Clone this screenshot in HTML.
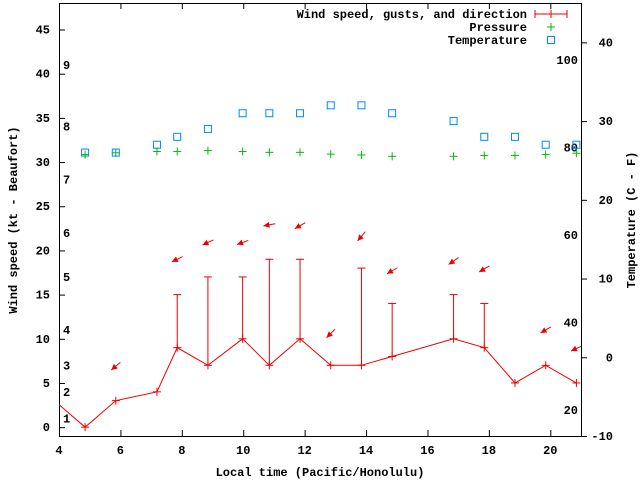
<!DOCTYPE html>
<html><head><meta charset="utf-8"><style>
body{margin:0;background:#fff}
svg{display:block}
text{font-family:"Liberation Mono",monospace;font-weight:bold;font-size:12px;fill:#000}
</style></head><body>
<svg id="chart" width="640" height="480" viewBox="0 0 640 480" xmlns="http://www.w3.org/2000/svg">
<g id="axes"></g>
<g id="marks"></g>
<g>
<text x="527" y="18" text-anchor="end">Wind speed, gusts, and direction</text>
<g stroke="#e00" stroke-width="1"><line x1="535" y1="14" x2="567" y2="14"/><line x1="535" y1="10" x2="535" y2="18"/><line x1="567" y1="10" x2="567" y2="18"/><line x1="551" y1="10" x2="551" y2="18"/></g>
<text x="527" y="31" text-anchor="end">Pressure</text>
<g stroke="#0b0" stroke-width="1"><line x1="547" y1="27" x2="555" y2="27"/><line x1="551" y1="23" x2="551" y2="31"/></g>
<text x="527" y="44" text-anchor="end">Temperature</text>
<rect x="547.5" y="36.5" width="7" height="7" fill="none" stroke="#08f"/>
</g>
<text x="320" y="476" text-anchor="middle">Local time (Pacific/Honolulu)</text>
<text transform="translate(17,220) rotate(-90)" text-anchor="middle">Wind speed (kt - Beaufort)</text>
<text transform="translate(635,220) rotate(-90)" text-anchor="middle">Temperature (C - F)</text>
</svg>
<script>
const times=[3.85,4.85,5.85,7.19,7.85,8.85,9.98,10.85,11.85,12.85,13.85,14.85,16.85,17.85,18.85,19.85,20.85];
const windKt=[3,0,3,4,9,7,10,7,10,7,7,8,10,9,5,7,5];
const gustKt=[null,null,null,null,15,17,17,19,19,null,18,14,15,14,null,null,null];
const arrowKt=[null,null,6.9,null,19,20.9,20.9,22.9,22.8,10.6,21.6,17.7,18.8,17.9,null,11,8.9];
const windDirDeg=[null,null,50,null,65,65,70,80,60,45,40,60,55,60,null,60,65];
const tempTimes=[4.85,5.85,7.19,7.85,8.85,9.98,10.85,11.85,12.85,13.85,14.85,16.85,17.85,18.85,19.85,20.85];
const tempC=[26,26,27,28,29,31,31,31,32,32,31,30,28,28,27,27];
const pressure=[30.85,31.05,31.2,31.2,31.3,31.2,31.1,31.1,30.9,30.8,30.65,30.65,30.75,30.75,30.85,31.0];
const xTicks=[4,6,8,10,12,14,16,18,20];
const yTicks=[0,5,10,15,20,25,30,35,40,45];
const cTicks=[-10,0,10,20,30,40];
const fLabels=[20,40,60,80,100];
const beaufortKt=[1,4,7,11,17,22,28,34,41];
const beaufortLabels=["1","2","3","4","5","6","7","8","9"];

const L=59,R=581,T=3,B=436;
const X=t=>L+(t-4)/(21-4)*(R-L);
const Y=k=>B-(k+1)/(48+1)*(B-T);
const YC=c=>B-(c+10)/(45+10)*(B-T);
const NS="http://www.w3.org/2000/svg";
function mk(tag,attrs,parent){const e=document.createElementNS(NS,tag);for(const k in attrs)e.setAttribute(k,attrs[k]);parent.appendChild(e);return e;}
const ax=document.getElementById('axes'),mg=document.getElementById('marks');

let fr=mk('rect',{x:L+0.5,y:T+0.5,width:R-L,height:B-T,fill:'none',stroke:'#000'},ax);


xTicks.forEach(t=>{
  let g=mk('g',{stroke:'#000'},ax);
  
  
  mk('line',{x1:X(t)+0.5,y1:B,x2:X(t)+0.5,y2:B-6},g);
  mk('line',{x1:X(t)+0.5,y1:T,x2:X(t)+0.5,y2:T+6},g);
  let tx=mk('text',{x:X(t),y:B+18,'text-anchor':'middle'},ax);tx.textContent=t;
  
  
});
yTicks.forEach(v=>{
  let l=mk('line',{x1:L,y1:Y(v)+0.5,x2:L+6,y2:Y(v)+0.5,stroke:'#000'},ax);
  
  
  let tx=mk('text',{x:L-9,y:Y(v)+4,'text-anchor':'end'},ax);tx.textContent=v;
  
  
});
cTicks.forEach(v=>{
  let l=mk('line',{x1:R,y1:YC(v)+0.5,x2:R+6,y2:YC(v)+0.5,stroke:'#000'},ax);
  
  
  let tx=mk('text',{x:613,y:YC(v)+4,'text-anchor':'end'},ax);tx.textContent=v;
  
  
});
fLabels.forEach(f=>{
  let tx=mk('text',{x:578,y:YC((f-32)*5/9)+4,'text-anchor':'end'},ax);tx.textContent=f;
  
  
});
beaufortKt.forEach((k,i)=>{
  let tx=mk('text',{x:63,y:Y(k)+4},ax);tx.textContent=beaufortLabels[i];
  
  
});

const defs=mk('defs',{},mg);const cp=mk('clipPath',{id:'clip'},defs);mk('rect',{x:L,y:T,width:R-L,height:B-T},cp);
const cg=mk('g',{'clip-path':'url(#clip)'},mg);

let pts=times.map((t,i)=>X(t)+','+Y(windKt[i])).join(' ');
let wl=mk('polyline',{points:pts,fill:'none',stroke:'#e00','stroke-width':1},cg);


times.forEach((t,i)=>{
  const x=X(t),y=Y(windKt[i]);
  let g=mk('g',{stroke:'#e00','stroke-width':1},cg);
  
  
  mk('line',{x1:x-4,y1:y,x2:x+4,y2:y},g);mk('line',{x1:x,y1:y-4,x2:x,y2:y+4},g);
  if(gustKt[i]!=null){
    const gy=Y(gustKt[i]);
    let gb=mk('g',{stroke:'#e00','stroke-width':1},cg);
    
    
    mk('line',{x1:x,y1:y,x2:x,y2:gy},gb);mk('line',{x1:x-4,y1:gy,x2:x+4,y2:gy},gb);
  }
  if(arrowKt[i]!=null){
    const a=windDirDeg[i]*Math.PI/180,dx=-Math.sin(a),dy=Math.cos(a);
    const cx=x,cy=Y(arrowKt[i]);
    const hx=cx+dx*6,hy=cy+dy*6,tx=cx-dx*6,ty=cy-dy*6;
    let ag=mk('g',{},cg);
    
    
    mk('line',{x1:tx,y1:ty,x2:hx,y2:hy,stroke:'#e00'},ag);
    const px=-dy,py=dx;
    const bx=hx-dx*6,by=hy-dy*6;
    mk('polygon',{points:`${hx},${hy} ${bx+px*3},${by+py*3} ${bx-px*3},${by-py*3}`,fill:'#e00'},ag);
  }
});
tempTimes.forEach((t,i)=>{
  const x=X(t),y=Y(pressure[i]);
  let g=mk('g',{stroke:'#0b0'},cg);
  
  
  mk('line',{x1:x-4,y1:y,x2:x+4,y2:y},g);mk('line',{x1:x,y1:y-4,x2:x,y2:y+4},g);
});
tempTimes.forEach((t,i)=>{
  const x=X(t),y=YC(tempC[i]);
  let r=mk('rect',{x:x-3.5,y:y-3.5,width:7,height:7,fill:'none',stroke:'#08f'},cg);
  
  
});
</script>
</body></html>
